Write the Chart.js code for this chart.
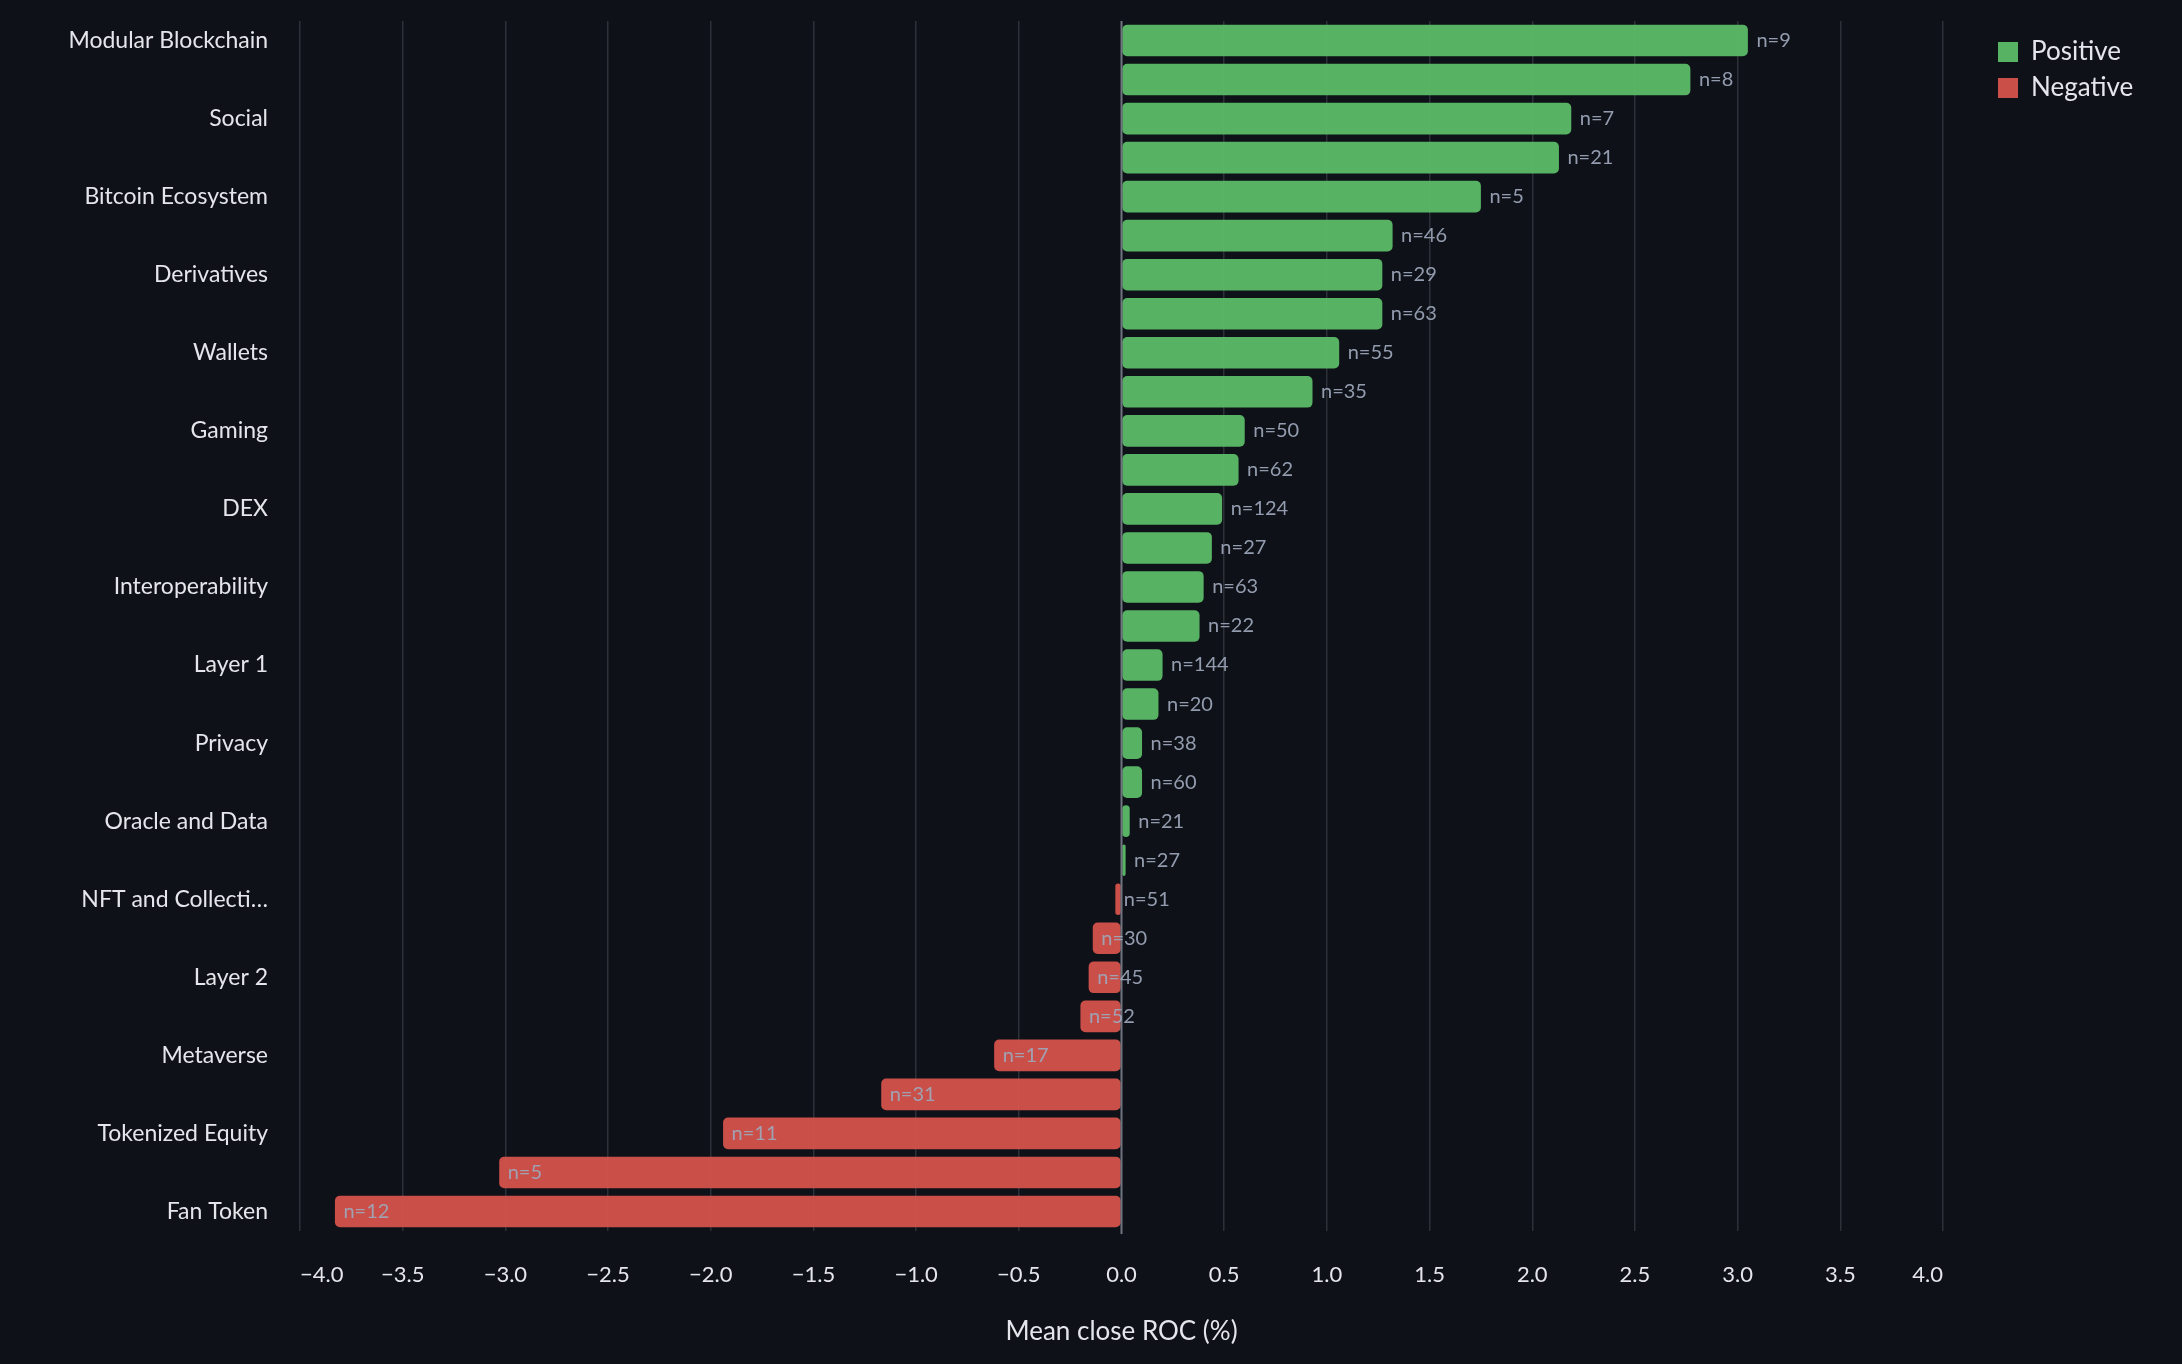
<!DOCTYPE html>
<html>
<head>
<meta charset="utf-8">
<script src="https://cdn.jsdelivr.net/npm/chart.js@4.4.1/dist/chart.umd.min.js"></script>
<style>
  html, body { margin: 0; padding: 0; background: #0e1117; }
  #wrap { width: 2182px; height: 1364px; position: relative; }
</style>
</head>
<body>
<div id="wrap"><canvas id="rocChart"></canvas></div>
<script>
// --- Data ---
const categories = [
  'Modular Blockchain', 'AI', 'Social', 'Meme', 'Bitcoin Ecosystem', 'Real World Assets',
  'Derivatives', 'Lending', 'Wallets', 'Liquid Staking', 'Gaming', 'Stablecoins',
  'DEX', 'Infrastructure', 'Interoperability', 'DePIN', 'Layer 1', 'Storage',
  'Privacy', 'Payments', 'Oracle and Data', 'Launchpad', 'NFT and Collectibles', 'Exchange Token',
  'Layer 2', 'Yield', 'Metaverse', 'Restaking', 'Tokenized Equity', 'Prediction Markets',
  'Fan Token'
];
const meanRoc = [
  3.05, 2.77, 2.19, 2.13, 1.75, 1.32, 1.27, 1.27, 1.06, 0.93,
  0.60, 0.57, 0.49, 0.44, 0.40, 0.38, 0.20, 0.18, 0.10, 0.10,
  0.04, 0.02, -0.03, -0.14, -0.16, -0.20, -0.62, -1.17, -1.94, -3.03,
  -3.83
];
const sampleSizes = [
  9, 8, 7, 21, 5, 46, 29, 63, 55, 35,
  50, 62, 124, 27, 63, 22, 144, 20, 38, 60,
  21, 27, 51, 30, 45, 52, 17, 31, 11, 5,
  12
];
const xTickValues = [-4, -3.5, -3, -2.5, -2, -1.5, -1, -0.5, 0, 0.5, 1, 1.5, 2, 2.5, 3, 3.5, 4];
const legendLabels = ['Positive', 'Negative'];

const GREEN = 'rgba(92, 190, 105, 0.93)';
const RED = 'rgba(215, 84, 76, 0.93)';
const TEXT = '#e4e6eb';
const FONT = 'Lato';

const shortLabel = s => s.length > 18 ? s.slice(0, 16) + '\u2026' : s;
const fmtTick = v => (v < 0 ? '\u2212' : '') + Math.abs(v).toFixed(1);

// --- n= labels + zero rule on top of the bars ---
const nLabels = {
  id: 'nLabels',
  afterDatasetsDraw(chart) {
    const { ctx, chartArea, scales: { x } } = chart;
    const x0 = x.getPixelForValue(0);
    ctx.save();
    ctx.strokeStyle = '#6f7480';
    ctx.lineWidth = 2;
    ctx.beginPath();
    ctx.moveTo(x0, chartArea.top);
    ctx.lineTo(x0, chartArea.bottom + 3);
    ctx.stroke();

    ctx.font = `20px ${FONT}`;
    ctx.fillStyle = 'rgba(158, 168, 188, 0.92)';
    ctx.textAlign = 'left';
    ctx.textBaseline = 'middle';
    chart.getDatasetMeta(0).data.forEach((bar, i) => {
      ctx.fillText('n=' + sampleSizes[i], bar.x + 8.5, bar.y);
    });
    ctx.restore();
  }
};

// --- Legend at the right of the plot ---
const sideLegend = {
  id: 'sideLegend',
  afterDraw(chart) {
    const { ctx, chartArea } = chart;
    const left = chartArea.right + 55;
    const colors = [GREEN, RED];
    ctx.save();
    ctx.font = `26px ${FONT}`;
    ctx.textBaseline = 'middle';
    ctx.textAlign = 'left';
    legendLabels.forEach((txt, i) => {
      const cy = chartArea.top + 31 + i * 36;
      ctx.fillStyle = colors[i];
      ctx.fillRect(left, cy - 10, 20, 20);
      ctx.fillStyle = TEXT;
      ctx.fillText(txt, left + 33, cy);
    });
    ctx.restore();
  }
};

new Chart(document.getElementById('rocChart'), {
  type: 'bar',
  data: {
    labels: categories,
    datasets: [{
      label: 'Mean close ROC (%)',
      data: meanRoc,
      backgroundColor: meanRoc.map(v => v >= 0 ? GREEN : RED),
      borderWidth: 0,
      borderRadius: 5,
      borderSkipped: false,
      barPercentage: 0.81,
      categoryPercentage: 1.0
    }]
  },
  options: {
    indexAxis: 'y',
    responsive: true,
    maintainAspectRatio: false,
    animation: false,
    layout: { padding: { top: 21, right: 239, bottom: 0, left: 0 } },
    plugins: {
      legend: { display: false },
      tooltip: { enabled: false }
    },
    scales: {
      x: {
        type: 'linear',
        min: -4,
        max: 4,
        afterBuildTicks: axis => { axis.ticks = xTickValues.map(v => ({ value: v })); },
        afterFit: s => { s.height = 133; },
        grid: {
          color: c => c.tick && c.tick.value === 0 ? 'rgba(0,0,0,0)' : '#2c3039',
          lineWidth: 1.5,
          drawTicks: false
        },
        border: { display: false },
        ticks: {
          color: TEXT,
          font: { family: FONT, size: 22 },
          padding: 31,
          align: 'inner',
          maxRotation: 0,
          callback: v => fmtTick(v)
        },
        title: {
          display: true,
          text: 'Mean close ROC (%)',
          color: TEXT,
          font: { family: FONT, size: 26 },
          padding: { top: 0, bottom: 17 }
        }
      },
      y: {
        type: 'category',
        afterFit: s => { s.width = 300; },
        // tick length (not drawn) gives the label gap without inflating top padding
        grid: { display: false, drawTicks: true, tickLength: 32 },
        border: { display: false },
        ticks: {
          autoSkip: false,
          color: TEXT,
          font: { family: FONT, size: 23 },
          padding: 0,
          callback: (v, i) => i % 2 === 0 ? shortLabel(categories[i]) : ''
        }
      }
    }
  },
  plugins: [nLabels, sideLegend]
});
</script>
</body>
</html>
